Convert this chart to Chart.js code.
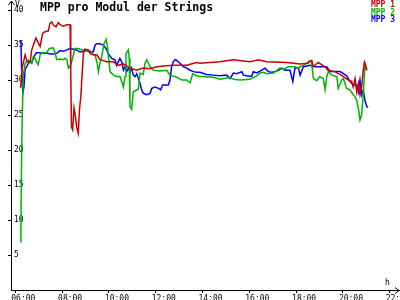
<!DOCTYPE html>
<html>
<head>
<meta charset="utf-8">
<script src="https://cdn.jsdelivr.net/npm/chart.js@4"></script>
<style>
  body { margin: 0; background: #fff; }
  canvas { display: block; }
</style>
</head>
<body>
<canvas id="chart" width="400" height="300"></canvas>
<script>
// Chart text
const chartTitle = 'MPP pro Modul der Strings';
const seriesLabels = ['MPP 1', 'MPP 2', 'MPP 3'];
const seriesColors = ['#cc0000', '#00b400', '#0000ff'];

// tick values (hours / volts)
const hourTicks = [6, 8, 10, 12, 14, 16, 18, 20, 22];
const voltTicks = [5, 10, 15, 20, 25, 30, 35, 40];

// MPP 1 (hours of day, volts)
const redTimes = [6.23, 6.29, 6.42, 6.50, 6.64, 6.70, 6.88, 6.98, 7.06, 7.17, 7.27, 7.41, 7.48, 7.56, 7.62, 7.74, 7.84, 7.91,
  8.05, 8.20, 8.34, 8.37, 8.40, 8.45, 8.51, 8.57, 8.62, 8.69, 8.74, 8.80, 8.85, 8.91, 8.98, 9.12, 9.19, 9.33, 9.48, 9.62,
  9.91, 10.19, 10.40, 10.62, 10.90, 11.19, 11.47, 11.76, 12.04, 12.32, 12.75, 13.32, 13.75, 13.89, 14.75, 15.32, 16.03,
  16.39, 16.74, 17.60, 18.17, 18.50, 18.67, 18.73, 18.94, 19.24, 19.36, 19.66, 19.93, 20.23, 20.37, 20.44, 20.52, 20.59,
  20.66, 20.73, 20.80, 20.87, 20.92, 20.96, 21.02];
const redValues = [28.9, 31.7, 33.6, 32.6, 32.6, 34.3, 36.0, 35.3, 34.8, 36.7, 36.9, 37.0, 38.1, 38.3, 37.9, 37.6, 38.2, 37.9,
  37.7, 37.9, 37.9, 31.0, 23.3, 22.9, 26.0, 24.8, 23.3, 22.4, 25.7, 27.6, 30.5, 33.8, 34.4, 34.3, 33.8, 33.6, 33.6, 32.9,
  32.6, 32.6, 32.1, 32.3, 31.7, 31.4, 31.7, 31.6, 31.9, 32.0, 32.1, 32.1, 32.5, 32.4, 32.6, 32.9, 32.6,
  32.9, 32.6, 32.5, 32.3, 32.4, 32.8, 31.9, 32.5, 31.9, 31.4, 31.2, 30.7, 30.0, 29.8, 29.0, 30.2, 28.3,
  29.5, 27.9, 29.0, 31.4, 32.6, 32.3, 31.4];

// MPP 2
const greenTimes = [6.21, 6.24, 6.27, 6.30, 6.34, 6.42, 6.56, 6.70, 6.77, 6.84, 6.91, 6.98, 7.06, 7.13, 7.27, 7.34, 7.45, 7.62,
  7.70, 7.77, 7.91, 8.05, 8.12, 8.20, 8.27, 8.34, 8.41, 8.48, 8.55, 8.69, 8.77, 8.91, 9.05, 9.19, 9.33, 9.41, 9.50, 9.55,
  9.62, 9.69, 9.79, 9.88, 9.93, 10.00, 10.05, 10.19, 10.33, 10.47, 10.55, 10.62, 10.69, 10.73, 10.83, 10.87, 10.90, 10.97,
  11.04, 11.15, 11.26, 11.33, 11.47, 11.54, 11.62, 11.76, 11.90, 12.18, 12.47, 12.61, 12.90, 13.11, 13.32, 13.47, 13.58,
  13.75, 13.89, 14.46, 14.75, 15.18, 15.32, 15.60, 16.03, 16.32, 16.46, 16.60, 16.74, 17.03, 17.31, 17.46, 17.67, 17.95,
  18.10, 18.17, 18.31, 18.45, 18.59, 18.66, 18.74, 18.88, 19.02, 19.16, 19.24, 19.31, 19.38, 19.52, 19.74, 19.80, 19.95,
  20.02, 20.16, 20.30, 20.44, 20.52, 20.59, 20.66, 20.73, 20.80, 20.87, 20.94, 21.02];
const greenValues = [6.9, 8.9, 19.5, 25.3, 30.7, 32.4, 32.9, 32.4, 33.3, 33.1, 32.6, 32.2, 33.6, 33.9, 33.9, 33.9, 34.5, 34.6,
  33.9, 32.9, 33.0, 32.9, 33.1, 32.9, 31.7, 32.0, 32.6, 33.6, 34.5, 34.5, 34.4, 34.3, 34.1, 34.2, 33.6, 33.6, 32.4, 31.2,
  32.4, 33.3, 35.2, 35.8, 35.0, 32.6, 31.2, 30.7, 30.5, 30.5, 29.8, 29.0, 30.5, 33.8, 34.3, 33.1, 26.2, 25.8,
  28.3, 28.5, 28.7, 31.0, 30.8, 32.4, 32.9, 31.9, 31.4, 31.3, 31.4, 30.7, 30.4, 30.0, 30.0, 29.6, 30.9,
  30.6, 30.5, 30.4, 30.1, 30.4, 30.1, 30.0, 30.1, 30.6, 31.0, 31.1, 30.9, 31.0, 31.7, 31.5, 31.9, 31.9,
  31.7, 31.9, 32.1, 32.4, 32.8, 32.6, 30.2, 29.9, 30.5, 30.2, 28.6, 30.5, 31.2, 30.7, 30.5, 28.8, 30.0,
  30.2, 28.8, 28.6, 27.9, 27.6, 27.1, 26.0, 24.3, 25.0, 28.1, 31.9, 31.4];

// MPP 3
const blueTimes = [6.21, 6.24, 6.27, 6.32, 6.37, 6.42, 6.49, 6.56, 6.63, 6.70, 6.77, 6.84, 6.91, 7.06, 7.20, 7.34, 7.48, 7.62,
  7.77, 7.91, 8.05, 8.20, 8.34, 8.48, 8.62, 8.77, 8.91, 9.05, 9.19, 9.33, 9.41, 9.48, 9.62, 9.76, 9.88, 9.97, 10.12, 10.26,
  10.33, 10.40, 10.47, 10.55, 10.62, 10.69, 10.76, 10.83, 10.90, 10.97, 11.04, 11.12, 11.19, 11.26, 11.33, 11.40, 11.47,
  11.62, 11.76, 11.83, 11.97, 12.12, 12.21, 12.30, 12.40, 12.54, 12.61, 12.68, 12.75, 12.83, 12.90, 13.04, 13.18, 13.32,
  13.47, 13.61, 13.75, 13.89, 14.18, 14.46, 14.75, 15.03, 15.18, 15.32, 15.46, 15.68, 15.75, 15.89, 16.10, 16.17, 16.32,
  16.53, 16.67, 16.81, 16.96, 17.10, 17.24, 17.38, 17.53, 17.74, 17.86, 17.95, 18.10, 18.17, 18.31, 18.45, 18.59, 18.80,
  19.02, 19.31, 19.45, 19.59, 19.88, 20.02, 20.16, 20.30, 20.44, 20.59, 20.66, 20.73, 20.80, 20.87, 20.94, 21.02, 21.08];
const blueValues = [35.7, 35.5, 31.4, 28.1, 29.0, 31.6, 31.9, 32.4, 32.6, 32.4, 33.1, 33.6, 33.9, 33.9, 33.8, 33.9, 33.7, 33.7,
  33.8, 34.2, 34.1, 34.3, 34.5, 34.4, 34.3, 34.0, 34.1, 34.3, 34.0, 34.0, 35.0, 35.2, 35.2, 35.0, 34.5, 33.8, 33.1, 32.9,
  32.1, 32.6, 33.1, 32.6, 31.4, 31.9, 31.2, 31.7, 31.2, 31.7, 30.7, 30.5, 30.9, 30.2, 29.5, 28.6, 28.1,
  27.9, 28.1, 28.8, 29.0, 28.8, 28.6, 29.3, 29.3, 29.3, 30.0, 31.9, 32.6, 32.9, 32.8, 32.4, 31.9, 31.7,
  31.4, 31.2, 31.1, 31.1, 30.8, 30.7, 30.6, 30.7, 30.2, 31.0, 30.9, 31.2, 30.7, 30.6, 30.5, 31.2, 31.0,
  31.4, 31.7, 31.2, 31.1, 31.2, 31.4, 31.7, 31.4, 31.4, 29.8, 31.7, 31.7, 30.7, 31.9, 32.0, 32.1, 31.9,
  31.9, 31.9, 31.2, 31.2, 31.2, 30.9, 30.6, 29.8, 29.3, 29.3, 28.3, 30.0, 27.9, 28.6, 27.1, 26.2, 26.1];

const toPoints = (xs, ys) => xs.map((x, i) => ({ x: x, y: ys[i] }));

// arrows, axis units, title and legend drawn on top
const decorations = {
  id: 'decorations',
  afterDraw(chart) {
    const ctx = chart.ctx;
    const area = chart.chartArea;
    const x0 = area.left + 0.5;
    const y0 = area.bottom + 0.5;
    ctx.save();
    ctx.strokeStyle = '#000';
    ctx.lineWidth = 1;
    ctx.beginPath();
    // y arrow
    ctx.moveTo(x0 - 3, area.top + 4);
    ctx.lineTo(x0, area.top);
    ctx.lineTo(x0 + 3, area.top + 4);
    // x arrow
    ctx.moveTo(area.right - 4, y0 - 3);
    ctx.lineTo(area.right, y0);
    ctx.lineTo(area.right - 4, y0 + 3);
    ctx.stroke();

    ctx.fillStyle = '#000';
    ctx.textBaseline = 'alphabetic';
    ctx.font = '8px "DejaVu Sans Mono"';
    ctx.textAlign = 'left';
    ctx.fillText('V', 15, 7);
    ctx.fillText('h', 385, 285);

    ctx.font = 'bold 11.5px "DejaVu Sans Mono"';
    ctx.fillText(chartTitle, 40, 11);

    ctx.font = 'bold 8px "DejaVu Sans Mono"';
    ctx.textAlign = 'right';
    chart.data.datasets.forEach((ds, i) => {
      ctx.fillStyle = ds.borderColor;
      ctx.fillText(ds.label, 395, 7 + i * 7.5);
    });
    ctx.restore();
  }
};

new Chart(document.getElementById('chart'), {
  type: 'line',
  data: {
    datasets: [
      { label: seriesLabels[0], data: toPoints(redTimes, redValues), borderColor: seriesColors[0] },
      { label: seriesLabels[1], data: toPoints(greenTimes, greenValues), borderColor: seriesColors[1] },
      { label: seriesLabels[2], data: toPoints(blueTimes, blueValues), borderColor: seriesColors[2] }
    ]
  },
  options: {
    responsive: false,
    animation: false,
    layout: { padding: { top: 1, right: 1, left: 0, bottom: 0 } },
    elements: {
      line: { borderWidth: 1.5, tension: 0, fill: false },
      point: { radius: 0 }
    },
    plugins: {
      legend: { display: false },
      tooltip: { enabled: false }
    },
    scales: {
      x: {
        type: 'linear',
        min: 5.816,
        max: 22.397,
        afterBuildTicks: (scale) => { scale.ticks = hourTicks.map(v => ({ value: v })); },
        afterFit: (scale) => {
          scale.height = 10;
          scale.paddingLeft = 0;
          scale.paddingRight = 0;
        },
        grid: { drawOnChartArea: false, color: '#000', tickLength: 3 },
        border: { color: '#000', width: 1 },
        ticks: {
          autoSkip: false,
          maxRotation: 0,
          align: 'start',
          labelOffset: -4,
          padding: 1,
          color: '#000',
          font: { family: 'DejaVu Sans Mono', size: 8 },
          callback: (v) => String(v).padStart(2, '0') + ':00'
        }
      },
      y: {
        min: 0,
        max: 41.29,
        afterBuildTicks: (scale) => { scale.ticks = voltTicks.map(v => ({ value: v })); },
        afterFit: (scale) => {
          scale.width = 11;
          scale.paddingTop = 0;
          scale.paddingBottom = 0;
        },
        grid: { drawOnChartArea: false, color: '#000', tickLength: 3 },
        border: { color: '#000', width: 1 },
        ticks: {
          mirror: true,
          padding: 3,
          color: '#000',
          font: { family: 'DejaVu Sans Mono', size: 8 }
        }
      }
    }
  },
  plugins: [decorations]
});
</script>
</body>
</html>
